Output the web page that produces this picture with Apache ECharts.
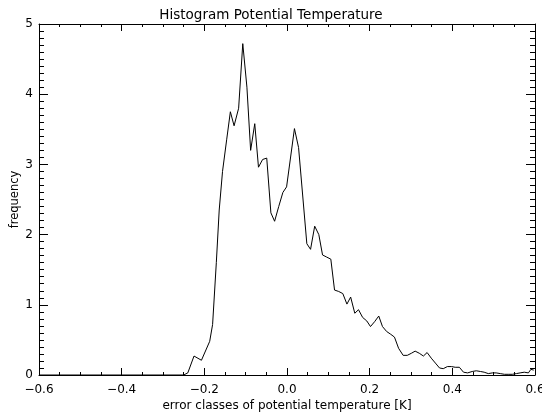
<!DOCTYPE html>
<html>
<head>
<meta charset="utf-8">
<script src="https://cdn.jsdelivr.net/npm/echarts@6/dist/echarts.min.js"></script>
<style>
html,body{margin:0;padding:0;background:#fff;}
#chart{width:542px;height:419px;}
</style>
</head>
<body>
<div id="chart"></div>
<script>
// error classes (K)
var classes = [-0.60,-0.25,-0.24,-0.225,-0.207,-0.187,-0.18,-0.171,-0.164,-0.156,-0.146,-0.137,-0.128,-0.117,-0.107,-0.097,-0.088,-0.078,-0.069,-0.059,-0.049,-0.039,-0.030,-0.020,-0.010,-0.001,0.018,0.028,0.048,0.057,0.067,0.077,0.086,0.096,0.106,0.115,0.125,0.135,0.145,0.154,0.164,0.173,0.183,0.193,0.202,0.212,0.222,0.231,0.241,0.251,0.260,0.270,0.281,0.291,0.301,0.310,0.320,0.330,0.339,0.349,0.359,0.369,0.378,0.388,0.398,0.407,0.417,0.427,0.437,0.448,0.458,0.468,0.477,0.487,0.497,0.506,0.516,0.526,0.535,0.545,0.555,0.564,0.574,0.584,0.590,0.597];
// frequency values
var frequency = [0,0,0.03,0.27,0.21,0.48,0.72,1.6,2.35,2.9,3.35,3.75,3.55,3.8,4.72,4.1,3.2,3.58,2.96,3.07,3.09,2.31,2.19,2.4,2.6,2.68,3.51,3.24,1.87,1.79,2.12,2.0,1.71,1.68,1.65,1.21,1.19,1.16,1.01,1.11,0.88,0.93,0.82,0.77,0.69,0.76,0.84,0.69,0.62,0.58,0.54,0.38,0.28,0.28,0.31,0.34,0.31,0.27,0.32,0.24,0.17,0.10,0.09,0.12,0.12,0.11,0.11,0.04,0.03,0.05,0.06,0.05,0.04,0.02,0.03,0.03,0.02,0.01,0.01,0.01,0.02,0.03,0.04,0.03,0.08,0.07];
var xTicks = [-0.6,-0.4,-0.2,0.0,0.2,0.4,0.6];
var yTicks = [0,1,2,3,4,5];

var pts = classes.map(function(c,i){return [c, frequency[i]];});
var FONT = 'DejaVu Sans';
var black = '#000';

function xFmt(v){
  var s = (Math.round(v*10)/10).toFixed(1);
  if (s === '-0.0') s = '0.0';
  return s.replace('-', '\u2212');
}

var chart = echarts.init(document.getElementById('chart'), null, {renderer:'canvas'});
var lineStyle = {color: black, width: 1};
var option = {
  backgroundColor: '#fff',
  animation: false,
  title: {
    text: 'Histogram Potential Temperature',
    left: 'center', top: 3,
    textStyle: {fontFamily: FONT, fontSize: 13.5, fontWeight: 'normal', color: black}
  },
  grid: {left: 39, right: 7, top: 24, bottom: 44, containLabel: false, outerBoundsMode: 'none'},
  xAxis: [{
    type: 'value', position: 'bottom',
    min: xTicks[0], max: xTicks[xTicks.length-1], interval: 0.2,
    name: 'error classes of potential temperature [K]',
    nameLocation: 'middle', nameGap: 25, nameMoveOverlap: false,
    nameTextStyle: {fontFamily: FONT, fontSize: 12, color: black},
    axisLine: {show: true, onZero: false, lineStyle: lineStyle},
    axisTick: {show: true, inside: true, length: 7, lineStyle: lineStyle},
    minorTick: {show: true, splitNumber: 4, length: 3, lineStyle: lineStyle},
    splitLine: {show: false},
    axisLabel: {formatter: xFmt, fontFamily: FONT, fontSize: 12, color: black, margin: 9}
  },{
    type: 'value', position: 'top',
    min: xTicks[0], max: xTicks[xTicks.length-1], interval: 0.2,
    axisLine: {show: true, onZero: false, lineStyle: lineStyle},
    axisTick: {show: true, inside: true, length: 7, lineStyle: lineStyle},
    minorTick: {show: true, splitNumber: 4, length: 3, lineStyle: lineStyle},
    splitLine: {show: false},
    axisLabel: {show: false}
  }],
  yAxis: [{
    type: 'value', position: 'left',
    min: yTicks[0], max: yTicks[yTicks.length-1], interval: 1,
    name: 'frequency', nameLocation: 'middle', nameGap: 18, nameMoveOverlap: false,
    nameTextStyle: {fontFamily: FONT, fontSize: 11.5, color: black},
    axisLine: {show: true, onZero: false, lineStyle: lineStyle},
    axisTick: {show: true, inside: true, length: 9, lineStyle: lineStyle},
    minorTick: {show: true, splitNumber: 10, length: 5, lineStyle: lineStyle},
    splitLine: {show: false},
    axisLabel: {fontFamily: FONT, fontSize: 12, color: black, margin: 6}
  },{
    type: 'value', position: 'right',
    min: yTicks[0], max: yTicks[yTicks.length-1], interval: 1,
    axisLine: {show: true, onZero: false, lineStyle: lineStyle},
    axisTick: {show: true, inside: true, length: 9, lineStyle: lineStyle},
    minorTick: {show: true, splitNumber: 10, length: 5, lineStyle: lineStyle},
    splitLine: {show: false},
    axisLabel: {show: false}
  }],
  series: [{
    type: 'line',
    xAxisIndex: 0, yAxisIndex: 0,
    data: pts,
    showSymbol: false,
    symbol: 'none',
    lineStyle: {color: black, width: 1},
    clip: true
  }]
};
chart.setOption(option);
</script>
</body>
</html>
